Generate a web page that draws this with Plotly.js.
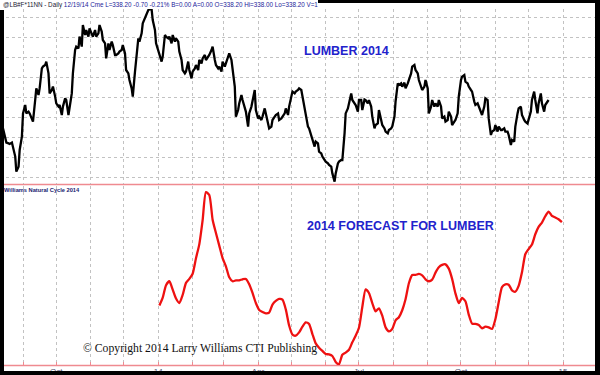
<!DOCTYPE html>
<html>
<head>
<meta charset="utf-8">
<script src="https://cdn.plot.ly/plotly-3.0.1.min.js"></script>
<style>
html,body{margin:0;padding:0;background:#000;overflow:hidden;}
#chart{width:600px;height:375px;}
</style>
</head>
<body>
<div id="chart"></div>
<script>
// ---- Lumber daily closes (Aug 2013 - Dec 19 2014) ----
const dates = [
'2013-08-14','2013-08-16','2013-08-17','2013-08-19','2013-08-20','2013-08-22','2013-08-23','2013-08-25','2013-08-26','2013-08-28','2013-08-29','2013-08-31',
'2013-09-01','2013-09-03','2013-09-04','2013-09-06','2013-09-07','2013-09-09','2013-09-10','2013-09-12','2013-09-13','2013-09-15','2013-09-16','2013-09-18','2013-09-19','2013-09-21','2013-09-22','2013-09-24','2013-09-25','2013-09-27','2013-09-28','2013-09-30',
'2013-10-01','2013-10-03','2013-10-04','2013-10-06','2013-10-07','2013-10-09','2013-10-10','2013-10-12','2013-10-13','2013-10-15','2013-10-16','2013-10-18','2013-10-19','2013-10-21','2013-10-22','2013-10-24','2013-10-25','2013-10-27','2013-10-28','2013-10-30','2013-10-31',
'2013-11-02','2013-11-03','2013-11-05','2013-11-06','2013-11-08','2013-11-09','2013-11-11','2013-11-12','2013-11-14','2013-11-15','2013-11-17','2013-11-18','2013-11-20','2013-11-21','2013-11-23','2013-11-24','2013-11-26','2013-11-27','2013-11-29','2013-11-30',
'2013-12-02','2013-12-03','2013-12-05','2013-12-06','2013-12-08','2013-12-09','2013-12-11','2013-12-12','2013-12-14','2013-12-15','2013-12-17','2013-12-18','2013-12-20','2013-12-21','2013-12-23','2013-12-24','2013-12-26','2013-12-27','2013-12-29','2013-12-30',
'2014-01-01','2014-01-02','2014-01-04','2014-01-05','2014-01-07','2014-01-08','2014-01-10','2014-01-11','2014-01-13','2014-01-14','2014-01-16','2014-01-17','2014-01-19','2014-01-20','2014-01-22','2014-01-23','2014-01-25','2014-01-26','2014-01-28','2014-01-29','2014-01-31',
'2014-02-01','2014-02-03','2014-02-04','2014-02-06','2014-02-07','2014-02-09','2014-02-10','2014-02-12','2014-02-13','2014-02-15','2014-02-16','2014-02-18','2014-02-19','2014-02-21','2014-02-22','2014-02-24','2014-02-25','2014-02-27','2014-02-28',
'2014-03-02','2014-03-03','2014-03-05','2014-03-06','2014-03-08','2014-03-09','2014-03-11','2014-03-12','2014-03-14','2014-03-15','2014-03-17','2014-03-18','2014-03-20','2014-03-21','2014-03-23','2014-03-24','2014-03-26','2014-03-27','2014-03-29','2014-03-30',
'2014-04-01','2014-04-02','2014-04-04','2014-04-05','2014-04-07','2014-04-08','2014-04-10','2014-04-11','2014-04-13','2014-04-14','2014-04-16','2014-04-17','2014-04-19','2014-04-20','2014-04-22','2014-04-23','2014-04-25','2014-04-26','2014-04-28','2014-04-29',
'2014-05-01','2014-05-02','2014-05-04','2014-05-05','2014-05-07','2014-05-08','2014-05-10','2014-05-11','2014-05-13','2014-05-14','2014-05-16','2014-05-17','2014-05-19','2014-05-20','2014-05-22','2014-05-23','2014-05-25','2014-05-26','2014-05-28','2014-05-29','2014-05-31',
'2014-06-01','2014-06-03','2014-06-04','2014-06-06','2014-06-07','2014-06-09','2014-06-10','2014-06-12','2014-06-13','2014-06-15','2014-06-16','2014-06-18','2014-06-19','2014-06-21','2014-06-22','2014-06-24','2014-06-25','2014-06-27','2014-06-28','2014-06-30',
'2014-07-01','2014-07-03','2014-07-04','2014-07-06','2014-07-07','2014-07-09','2014-07-10','2014-07-12','2014-07-13','2014-07-15','2014-07-16','2014-07-18','2014-07-19','2014-07-21','2014-07-22','2014-07-24','2014-07-25','2014-07-27','2014-07-28','2014-07-30','2014-07-31',
'2014-08-02','2014-08-03','2014-08-05','2014-08-06','2014-08-08','2014-08-09','2014-08-11','2014-08-12','2014-08-14','2014-08-15','2014-08-17','2014-08-18','2014-08-20','2014-08-21','2014-08-23','2014-08-24','2014-08-26','2014-08-27','2014-08-29','2014-08-30',
'2014-09-01','2014-09-02','2014-09-04','2014-09-05','2014-09-07','2014-09-08','2014-09-10','2014-09-11','2014-09-13','2014-09-14','2014-09-16','2014-09-17','2014-09-19','2014-09-20','2014-09-22','2014-09-23','2014-09-25','2014-09-26','2014-09-28','2014-09-29',
'2014-10-01','2014-10-02','2014-10-04','2014-10-05','2014-10-07','2014-10-08','2014-10-10','2014-10-11','2014-10-13','2014-10-14','2014-10-16','2014-10-17','2014-10-19','2014-10-20','2014-10-22','2014-10-23','2014-10-25','2014-10-26','2014-10-28','2014-10-29','2014-10-31',
'2014-11-01','2014-11-03','2014-11-04','2014-11-06','2014-11-07','2014-11-09','2014-11-10','2014-11-12','2014-11-13','2014-11-15','2014-11-16','2014-11-18','2014-11-19','2014-11-21','2014-11-22','2014-11-24','2014-11-25','2014-11-27','2014-11-28','2014-11-30',
'2014-12-01','2014-12-03','2014-12-04','2014-12-06','2014-12-07','2014-12-09','2014-12-10','2014-12-12','2014-12-13','2014-12-15','2014-12-16','2014-12-18','2014-12-19'
];
const lumber = [
324.3,318.5,317.2,316.8,316.5,317.2,315.2,310.2,302.7,305.2,
313.5,320.2,331.8,336.0,331.8,332.7,331.8,329.3,327.7,338.5,
344.3,341.0,344.3,354.3,355.2,356.0,357.7,351.8,341.8,343.5,
345.2,340.2,336.8,335.2,336.0,331.0,335.2,339.3,338.5,331.0,
335.2,341.8,351.8,363.5,365.2,364.3,370.2,365.2,376.0,371.0,
373.5,370.2,374.3,371.8,370.2,373.5,370.2,371.8,376.0,372.7,
368.5,366.8,359.3,366.8,363.5,367.7,366.0,361.0,361.0,361.8,
362.7,363.5,366.0,361.8,353.5,351.8,348.5,344.3,340.2,352.7,
358.5,369.3,367.7,371.8,376.8,379.3,381.0,383.5,383.8,383.8,
378.5,373.5,366.8,363.5,361.0,357.7,360.2,371.0,370.2,369.3,
370.2,366.8,371.0,367.7,369.3,367.7,362.7,358.5,353.5,351.8,
352.7,357.7,353.5,349.3,352.7,354.3,356.0,353.5,358.5,356.8,
359.3,361.0,358.5,360.2,361.0,363.5,365.2,358.5,356.0,354.3,
355.2,352.7,357.7,355.2,356.8,361.0,361.8,358.5,353.5,345.2,
330.2,333.5,336.8,341.0,338.5,335.2,332.7,325.2,331.8,335.2,
338.5,343.5,333.5,329.3,330.2,328.5,330.2,334.3,331.8,327.7,
324.3,325.2,328.5,330.2,331.0,331.8,328.5,329.3,330.2,331.8,
334.3,331.0,335.2,341.0,342.7,341.8,342.7,343.5,344.3,343.5,
340.2,335.2,330.2,325.2,324.3,320.2,318.5,315.2,317.7,316.8,
312.7,311.8,310.2,308.5,307.7,306.8,306.0,305.2,301.8,297.7,
301.8,306.8,307.7,308.5,308.5,321.8,331.8,334.3,336.8,341.8,
338.5,336.8,336.0,332.7,338.5,338.5,333.5,338.8,338.5,336.8,
338.5,335.2,330.2,324.3,326.0,326.8,333.5,328.5,326.0,324.3,
322.7,321.8,323.5,324.3,325.2,330.2,337.7,346.8,346.0,346.8,
345.2,347.2,344.3,346.8,348.5,351.8,355.2,356.0,353.5,351.8,
348.5,345.2,343.5,345.2,348.5,344.3,331.8,335.2,338.5,335.2,
336.8,335.2,338.5,335.2,329.3,330.2,327.7,328.5,332.7,330.2,
326.0,327.7,328.5,331.8,340.2,348.5,350.2,351.0,347.7,346.8,
345.2,343.5,342.7,337.7,336.0,336.8,335.2,331.8,331.0,335.2,
339.3,338.5,329.3,321.0,322.7,323.5,326.0,322.7,325.2,323.5,
323.5,324.3,322.7,322.7,321.0,316.0,318.5,317.7,325.2,331.8,
334.3,335.2,331.0,328.5,327.7,326.8,329.3,332.7,338.5,342.7,
338.5,331.8,336.8,341.8,336.8,332.7,336.0,337.7,338.5
];

// ---- Williams Natural Cycle 2014 (forecast index) ----
const cycleDates = [
'2014-01-02','2014-01-05','2014-01-08','2014-01-11','2014-01-14','2014-01-17','2014-01-20','2014-01-23','2014-01-26','2014-01-29',
'2014-02-01','2014-02-04','2014-02-07','2014-02-10','2014-02-13','2014-02-16','2014-02-19','2014-02-22','2014-02-25','2014-02-28',
'2014-03-03','2014-03-06','2014-03-09','2014-03-12','2014-03-15','2014-03-18','2014-03-21','2014-03-24','2014-03-27','2014-03-30',
'2014-04-02','2014-04-05','2014-04-08','2014-04-11','2014-04-14','2014-04-17','2014-04-20','2014-04-23','2014-04-26','2014-04-29',
'2014-05-02','2014-05-05','2014-05-08','2014-05-11','2014-05-14','2014-05-17','2014-05-20','2014-05-23','2014-05-26','2014-05-29',
'2014-06-01','2014-06-04','2014-06-07','2014-06-10','2014-06-13','2014-06-16','2014-06-19','2014-06-22','2014-06-25','2014-06-28',
'2014-07-01','2014-07-04','2014-07-07','2014-07-10','2014-07-13','2014-07-16','2014-07-19','2014-07-22','2014-07-25','2014-07-28',
'2014-07-31','2014-08-03','2014-08-06','2014-08-09','2014-08-12','2014-08-15','2014-08-18','2014-08-21','2014-08-24','2014-08-27',
'2014-08-30','2014-09-02','2014-09-05','2014-09-08','2014-09-11','2014-09-14','2014-09-17','2014-09-20','2014-09-23','2014-09-26',
'2014-09-29','2014-10-02','2014-10-05','2014-10-08','2014-10-11','2014-10-14','2014-10-17','2014-10-20','2014-10-23','2014-10-26',
'2014-10-29','2014-11-01','2014-11-04','2014-11-07','2014-11-10','2014-11-13','2014-11-16','2014-11-19','2014-11-22','2014-11-25',
'2014-11-28','2014-12-01','2014-12-04','2014-12-07','2014-12-10','2014-12-13','2014-12-16','2014-12-19','2014-12-22','2014-12-25',
'2014-12-28','2014-12-31'
];
const cycle = [
33.0,37.4,44.3,46.5,41.9,36.9,34.4,38.9,45.6,47.8,
50.7,59.3,67.0,80.4,96.0,94.4,80.7,73.3,66.3,59.4,
54.8,48.7,46.5,47.0,47.0,47.6,47.8,44.8,40.0,34.4,
30.6,29.4,28.7,29.1,33.5,35.6,36.7,36.3,30.9,21.9,
16.9,16.3,18.1,21.3,23.7,22.8,17.2,12.0,9.6,7.8,
6.1,5.9,5.0,1.7,0.4,5.7,6.9,8.5,12.6,16.3,
20.7,32.2,42.0,40.0,34.4,29.8,31.5,27.4,20.9,18.7,
20.0,24.8,26.5,30.4,36.5,45.4,50.0,50.0,50.6,49.8,
47.6,46.5,47.4,51.3,54.3,55.6,55.9,53.5,47.8,39.8,
34.4,37.2,35.4,28.0,23.0,22.8,22.2,20.4,21.3,20.9,
20.0,25.4,34.8,43.3,44.8,44.6,41.5,40.7,43.9,51.5,
61.5,64.4,66.9,72.6,76.7,79.1,82.6,85.2,82.8,81.9,
80.9,79.3
];

// ---- axis ticks ----
const monthTicks = ['2013-09-01','2013-10-01','2013-11-01','2013-12-01','2014-01-01','2014-02-01','2014-03-01','2014-04-01','2014-05-01','2014-06-01','2014-07-01','2014-08-01','2014-09-01','2014-10-01','2014-11-01','2014-12-01','2015-01-01'];
const monthLabels = ['','Oct','','','14','','','Apr','','','Jul','','','Oct','','','15'];

const headerLeft = '@LB#F*11NN - Daily';
const headerRight = '12/19/14 Cme L=338.20 -0.70 -0.21% B=0.00 A=0.00 O=338.20 Hi=338.00 Lo=338.20 V=1';

const W = 600, H = 375;
const px = x => x / W;
const py = y => 1 - y / H;
const xRange = ['2013-08-11 06:14', '2015-01-29 20:40'];
const gridC = '#c2c2c2';
const sepC = '#ef8a90';

const traces = [
  {x: dates, y: lumber, xaxis: 'x', yaxis: 'y', type: 'scatter', mode: 'lines',
   line: {color: '#000000', width: 2.3}, hoverinfo: 'skip'},
  {x: cycleDates, y: cycle, xaxis: 'x2', yaxis: 'y2', type: 'scatter', mode: 'lines',
   line: {color: '#ee1111', width: 2.3, shape: 'spline', smoothing: 0.6}, hoverinfo: 'skip'}
];

const layout = {
  width: W, height: H,
  margin: {l: 0, r: 0, t: 0, b: 0},
  paper_bgcolor: '#ffffff',
  plot_bgcolor: 'rgba(0,0,0,0)',
  showlegend: false,
  font: {family: 'Arial, Liberation Sans, sans-serif'},
  xaxis: {
    type: 'date', anchor: 'y', domain: [0, px(595)], range: xRange,
    tickmode: 'array', tickvals: monthTicks, ticktext: monthLabels,
    showticklabels: false, ticks: '',
    showgrid: true, gridcolor: gridC, griddash: 'dot', gridwidth: 1,
    zeroline: false, showline: false
  },
  yaxis: {
    anchor: 'x', domain: [py(184), py(9)], range: [296.5, 384],
    tick0: 300, dtick: 10, showticklabels: false, ticks: '',
    showgrid: true, gridcolor: gridC, griddash: 'dot', gridwidth: 1,
    zeroline: false, showline: false
  },
  xaxis2: {
    type: 'date', anchor: 'y2', domain: [0, px(595)], range: xRange,
    tickmode: 'array', tickvals: monthTicks, ticktext: monthLabels,
    showticklabels: true, ticks: 'inside', ticklen: 3, tickcolor: sepC, tickwidth: 1,
    tickfont: {size: 8, color: '#505070', family: 'Arial'},
    showgrid: true, gridcolor: gridC, griddash: 'dot', gridwidth: 1,
    zeroline: false, showline: false
  },
  yaxis2: {
    anchor: 'x2', domain: [py(365), py(186)], range: [0, 99.4],
    showticklabels: false, ticks: '', showgrid: false, zeroline: false, showline: false
  },
  shapes: [
    {type: 'line', xref: 'paper', yref: 'paper', x0: 0, x1: 1, y0: py(184.5), y1: py(184.5),
     line: {color: sepC, width: 1.5}, layer: 'below'},
    {type: 'line', xref: 'paper', yref: 'paper', x0: 0, x1: 1, y0: py(365.5), y1: py(365.5),
     line: {color: sepC, width: 1.5}, layer: 'below'},
    // black frame of the screenshot
    {type: 'rect', xref: 'paper', yref: 'paper', x0: 0, x1: px(4), y0: 0, y1: py(10),
     fillcolor: '#000', line: {width: 0}, layer: 'above'},
    {type: 'rect', xref: 'paper', yref: 'paper', x0: px(595), x1: 1, y0: 0, y1: 1,
     fillcolor: '#000', line: {width: 0}, layer: 'above'},
    {type: 'rect', xref: 'paper', yref: 'paper', x0: 0, x1: 1, y0: 0, y1: py(371),
     fillcolor: '#000', line: {width: 0}, layer: 'above'},
    {type: 'rect', xref: 'paper', yref: 'paper', x0: px(318), x1: 1, y0: py(3), y1: 1,
     fillcolor: '#000', line: {width: 0}, layer: 'above'}
  ],
  annotations: [
    {xref: 'paper', yref: 'paper', x: px(0.5), y: py(4.5), xanchor: 'left', yanchor: 'middle',
     showarrow: false, font: {size: 6.3, family: 'Arial', color: '#1c1c9a'},
     text: '<span style="color:#222233">' + headerLeft + '</span> ' + headerRight},
    {xref: 'paper', yref: 'paper', x: px(1.5), y: py(189.5), xanchor: 'left', yanchor: 'middle',
     showarrow: false, font: {size: 5.7, family: 'Arial', color: '#1a1a70'},
     text: '<b>Williams Natural Cycle 2014</b>'},
    {xref: 'paper', yref: 'paper', x: px(346.5), y: py(51.5), xanchor: 'center', yanchor: 'middle',
     showarrow: false, font: {size: 12.5, family: 'Arial', color: '#2222cc'},
     text: '<b>LUMBER 2014</b>'},
    {xref: 'paper', yref: 'paper', x: px(400.5), y: py(226), xanchor: 'center', yanchor: 'middle',
     showarrow: false, font: {size: 12.5, family: 'Arial', color: '#2222cc'},
     text: '<b>2014 FORECAST FOR LUMBER</b>'},
    {xref: 'paper', yref: 'paper', x: px(81), y: py(348), xanchor: 'left', yanchor: 'middle',
     showarrow: false, font: {size: 11.7, family: 'Liberation Serif, Times New Roman, serif', color: '#111111'},
     text: '© Copyright 2014 Larry Williams CTI Publishing'}
  ]
};

Plotly.newPlot('chart', traces, layout, {staticPlot: true, displayModeBar: false});
</script>
</body>
</html>
